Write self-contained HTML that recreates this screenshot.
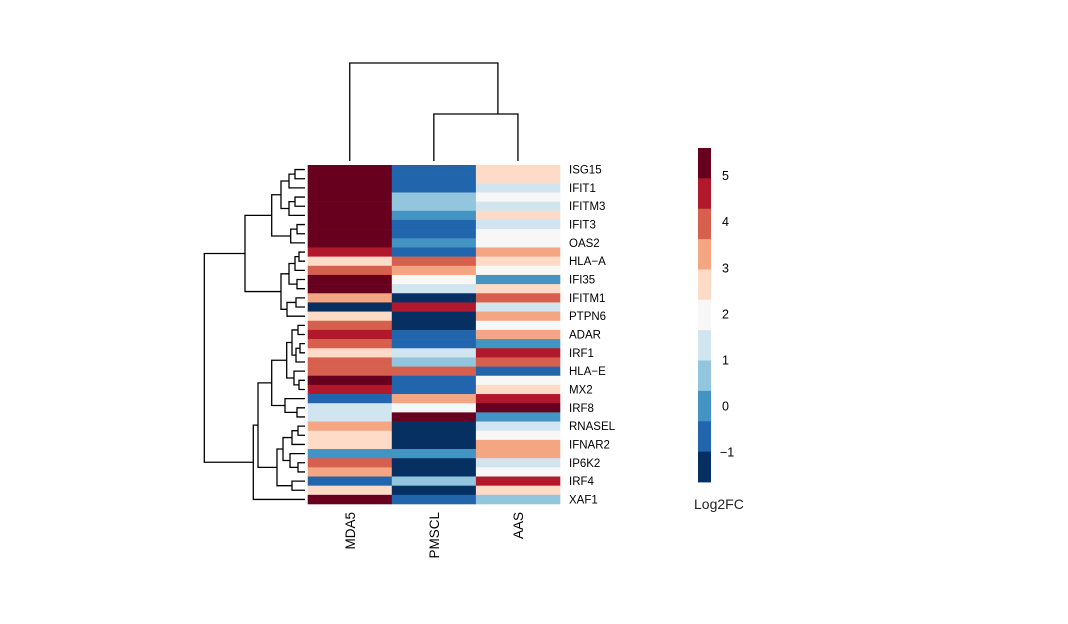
<!DOCTYPE html>
<html><head><meta charset="utf-8"><style>
html,body{margin:0;padding:0;background:#fff;}
svg{display:block;font-family:"Liberation Sans",Arial,sans-serif;}
</style></head><body>
<svg id="chart" width="1068" height="624" viewBox="0 0 1068 624" xmlns="http://www.w3.org/2000/svg">
<g id="cells"></g>
<g id="rowdend" stroke="#000" stroke-width="1.3" fill="none"></g>
<g id="coldend" stroke="#000" stroke-width="1.3" fill="none"></g>
<g id="rowlabels"></g>
<g id="collabels"></g>
<g id="legend"></g>
</svg>
<script>
const columns = ["MDA5","PMSCL","AAS"];
const rowLabels = ["ISG15","IFIT1","IFITM3","IFIT3","OAS2","HLA\u2212A","IFI35","IFITM1","PTPN6","ADAR","IRF1","HLA\u2212E","MX2","IRF8","RNASEL","IFNAR2","IP6K2","IRF4","XAF1"];
const valuesMDA5 = [5.3,5.3,5.3,5.3,5.3,5.3,5.3,5.3,5.3,4.6,2.6,3.9,5.3,5.3,3.3,-1.3,2.6,3.9,4.6,3.9,2.6,3.9,3.9,5.3,4.6,-0.7,1.3,1.3,3.3,2.6,2.6,0,3.9,3.3,-0.7,2.6,5.3];
const valuesPMSCL = [-0.7,-0.7,-0.7,0.6,0.6,0,-0.7,-0.7,0,-0.7,3.9,3.3,2.0,1.3,-1.3,4.6,-1.3,-1.3,-0.7,-0.7,1.3,0.6,3.9,-0.7,-0.7,3.3,2.0,5.3,-1.3,-1.3,-1.3,0,-1.3,-1.3,0.6,-1.3,-0.7];
const valuesAAS = [2.6,2.6,1.3,2.0,1.3,2.6,1.3,2.0,2.0,3.3,2.6,2.0,0,2.6,3.9,1.3,3.3,2.0,3.3,0,4.6,3.9,-0.7,2.0,2.6,4.6,5.3,0,1.3,2.0,3.3,3.3,1.3,2.0,4.6,2.6,0.6];
const legendTicks = [5,4,3,2,1,0,-1];
const colorBins = ["#67001f","#b2182b","#d6604d","#f4a582","#fddbc7","#f7f7f7","#d1e5f0","#92c5de","#4393c3","#2166ac","#053061"];
const NS="http://www.w3.org/2000/svg";
const vMax=5.6, vMin=-1.65;
const hmX=307.7, hmY=165, colW=84.1, rowH=(504-165)/37;
function colorOf(v){let k=Math.floor((vMax-v)/((vMax-vMin)/11));k=Math.max(0,Math.min(10,k));return colorBins[k];}
function mk(tag,attrs,parent){const e=document.createElementNS(NS,tag);for(const k in attrs)e.setAttribute(k,attrs[k]);parent.appendChild(e);return e;}
const series=[valuesMDA5,valuesPMSCL,valuesAAS];
const cells=document.getElementById('cells');
series.forEach((vals,c)=>{vals.forEach((v,r)=>{
 const e=mk('rect',{x:hmX+c*colW,y:hmY+r*rowH,width:colW+0.3,height:rowH+0.3,fill:colorOf(v)},cells);
 
 
});});
// row labels
const rl=document.getElementById('rowlabels');
rowLabels.forEach((t,i)=>{const e=mk('text',{x:569,y:hmY+(2*i+0.5)*rowH+4,'font-size':11.5,fill:'#000'},rl);e.textContent=t;
 
 });
// column labels
const cl=document.getElementById('collabels');
columns.forEach((t,i)=>{const x=hmX+(i+0.5)*colW+5;const e=mk('text',{x:x,y:512,'font-size':13.5,'text-anchor':'end',transform:'rotate(-90 '+x+' 512)',fill:'#000'},cl);e.textContent=t;
 
 });
// row dendrogram
const rowTree=[204.3,[245,[271.7,[281,[289,[295,0,1],2],[289,[295,3,4],5]],[290.7,[297,6,7],8]],[281,[289,[295,[299,9,10],11],[297,12,13]],[287,[296,14,15],16]]],[253.3,[258,[271.7,[286.7,[292,[298,17,18],[296,[300,19,20],21]],[294,22,[299,23,24]]],[285,25,[297,26,27]]],[277,[283,[292,[298,28,29],30],[290,31,[298,32,33]]],[292,34,35]]],36]];
const rd=document.getElementById('rowdend');
function drawRow(n){ if(typeof n==='number') return {x:305,y:hmY+(n+0.5)*rowH};
 const a=drawRow(n[1]),b=drawRow(n[2]),x=n[0];
 const p=mk('path',{d:`M${a.x},${a.y}H${x}V${b.y}H${b.x}`},rd);
 
 
 return {x:x,y:(a.y+b.y)/2};}
drawRow(rowTree);
// column dendrogram
const colTree=[63,0,[114,1,2]];
const cd=document.getElementById('coldend');
function drawCol(n){ if(typeof n==='number') return {x:hmX+(n+0.5)*colW,y:161};
 const a=drawCol(n[1]),b=drawCol(n[2]),y=n[0];
 const p=mk('path',{d:`M${a.x},${a.y}V${y}H${b.x}V${b.y}`},cd);
 
 
 return {x:(a.x+b.x)/2+22,y:y};}
drawCol(colTree);
// legend
const lg=document.getElementById('legend');
const lgTop=148,lgBot=482,lgX=698,lgW=13;
const legY=v=>lgTop+(vMax-v)/(vMax-vMin)*(lgBot-lgTop);
colorBins.forEach((c,k)=>{const y0=lgTop+k*(lgBot-lgTop)/11;const e=mk('rect',{x:lgX,y:y0,width:lgW,height:(lgBot-lgTop)/11+0.4,fill:c},lg);
 
 });
legendTicks.forEach(t=>{const e=mk('text',{x:t<0?720:722,y:legY(t)+4.5,'font-size':12.5,fill:'#000'},lg);e.textContent=t<0?'\u2212'+(-t):String(t);
 
 });
const tt=mk('text',{x:694,y:509,'font-size':14,fill:'#222'},lg);tt.textContent='Log2FC';


</script>
</body></html>
